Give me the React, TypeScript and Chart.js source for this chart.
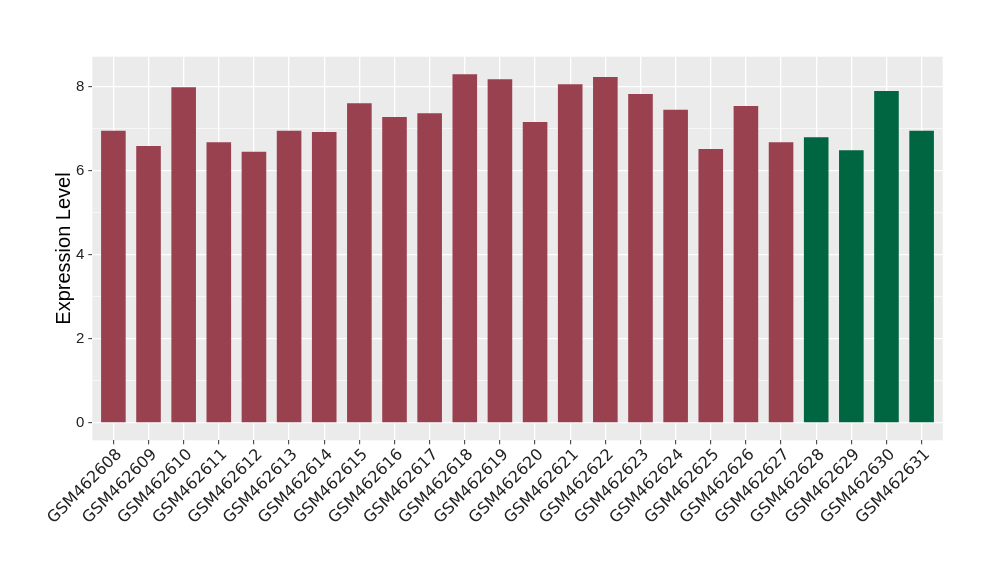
import React, { useEffect, useRef } from "react";
import { Chart, registerables } from "chart.js";

Chart.register(...registerables);

const categories = [
  "GSM462608", "GSM462609", "GSM462610", "GSM462611", "GSM462612", "GSM462613",
  "GSM462614", "GSM462615", "GSM462616", "GSM462617", "GSM462618", "GSM462619",
  "GSM462620", "GSM462621", "GSM462622", "GSM462623", "GSM462624", "GSM462625",
  "GSM462626", "GSM462627", "GSM462628", "GSM462629", "GSM462630", "GSM462631",
];
const values = [
  6.95, 6.59, 7.99, 6.68, 6.45, 6.95,
  6.92, 7.61, 7.28, 7.37, 8.30, 8.18,
  7.16, 8.06, 8.23, 7.83, 7.45, 6.52,
  7.54, 6.68, 6.80, 6.49, 7.90, 6.95,
];
const groups = [
  "A", "A", "A", "A", "A", "A", "A", "A", "A", "A", "A", "A",
  "A", "A", "A", "A", "A", "A", "A", "A", "B", "B", "B", "B",
];
const groupColors: Record<string, string> = { A: "#9A4150", B: "#006642" };
const yTicks = [0, 1, 2, 3, 4, 5, 6, 7, 8];
const yTitle = "Expression Level";

const FONT = "'Liberation Sans', Arial, Helvetica, sans-serif";
const XFONT = "'DejaVu Sans', sans-serif";

const panelBg = {
  id: "panelBg",
  beforeDraw(chart: any) {
    const { ctx, chartArea } = chart;
    ctx.save();
    ctx.fillStyle = "#EBEBEB";
    ctx.fillRect(chartArea.left, chartArea.top, chartArea.right - chartArea.left, chartArea.bottom - chartArea.top);
    ctx.restore();
  },
};

export default function App() {
  const ref = useRef<HTMLCanvasElement>(null);
  useEffect(() => {
    if (!ref.current) return;
    const maxV = Math.max(...values);
    const n = categories.length;
    const chart = new Chart(ref.current, {
      type: "bar",
      data: {
        datasets: [
          {
            data: values.map((v, i) => ({ x: i, y: v })),
            backgroundColor: groups.map((g) => groupColors[g]),
            borderWidth: 0,
            barPercentage: 0.7,
            categoryPercentage: 1,
          },
        ],
      },
      options: {
        animation: false,
        responsive: true,
        maintainAspectRatio: false,
        layout: { padding: { left: 0, top: 56.7, right: 57.3, bottom: 0 } },
        plugins: { legend: { display: false }, tooltip: { enabled: false } },
        scales: {
          x: {
            type: "linear",
            offset: false,
            min: -0.6,
            max: n - 1 + 0.6,
            afterBuildTicks: (scale: any) => {
              scale.ticks = categories.map((_, i) => ({ value: i }));
            },
            afterFit: (scale: any) => {
              scale.height = 580 - 440.3;
            },
            grid: {
              offset: false,
              color: "#FFFFFF",
              lineWidth: 1.3,
              drawTicks: true,
              tickLength: 4,
              tickColor: "#333333",
              tickWidth: 1,
            },
            border: { display: false },
            ticks: {
              autoSkip: false,
              minRotation: 45,
              maxRotation: 45,
              padding: 1,
              labelOffset: 6,
              color: "#222222",
              font: { family: XFONT, size: 16 },
              callback: (v: any) => categories[v as number] ?? "",
            },
          },
          y: {
            type: "linear",
            min: -0.05 * maxV,
            max: maxV * 1.05,
            afterBuildTicks: (scale: any) => {
              scale.ticks = yTicks.map((v) => ({ value: v }));
            },
            afterFit: (scale: any) => {
              scale.width = 92.3;
            },
            grid: {
              color: "#FFFFFF",
              lineWidth: (ctx: any) => (ctx.tick && ctx.tick.value % 2 ? 0.6 : 1.3),
              drawTicks: true,
              tickLength: 4,
              tickColor: (ctx: any) => (ctx.tick && ctx.tick.value % 2 ? "rgba(0,0,0,0)" : "#333333"),
              tickWidth: 1,
            },
            border: { display: false },
            ticks: {
              autoSkip: false,
              padding: 4,
              color: "#222222",
              font: { family: FONT, size: 15 },
              callback: (v: any) => (v % 2 === 0 ? String(v) : ""),
            },
            title: {
              display: true,
              text: yTitle,
              color: "#000000",
              font: { family: FONT, size: 20 },
              padding: { top: 52, bottom: 0 },
            },
          },
        },
      },
      plugins: [panelBg],
    });
    return () => chart.destroy();
  }, []);
  return (
    <div style={{ position: "absolute", left: 0, top: 0, width: 1000, height: 580, background: "#fff" }}>
      <canvas ref={ref} />
    </div>
  );
}
